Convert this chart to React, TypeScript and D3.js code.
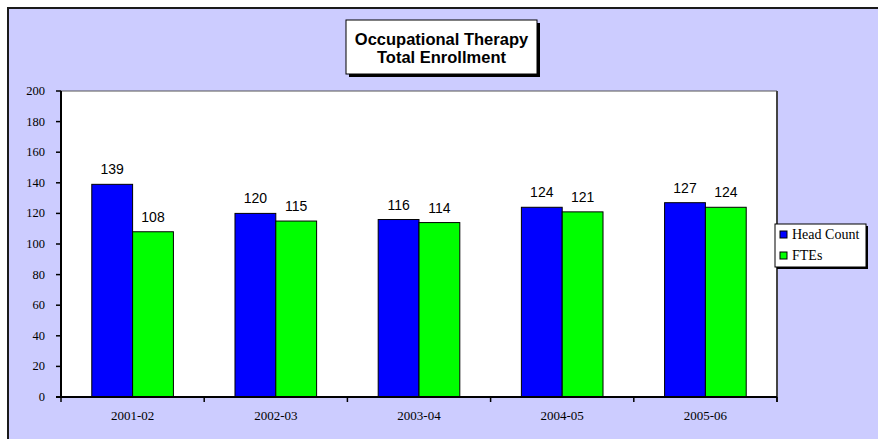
import React from "react";
import * as d3 from "d3";

const categories = ["2001-02", "2002-03", "2003-04", "2004-05", "2005-06"];
const seriesNames = ["Head Count", "FTEs"];
const headCount = [139, 120, 116, 124, 127];
const ftes = [108, 115, 114, 121, 124];
const yTicks = [0, 20, 40, 60, 80, 100, 120, 140, 160, 180, 200];
const titleLines = ["Occupational Therapy", "Total Enrollment"];
const colors = ["#0000ff", "#00ff00"];

export default function App() {
  const W = 878, H = 439;
  const left = 61, right = 777, top = 91, bottom = 397;
  const x = d3.scaleBand<string>().domain(categories).range([left, right]).paddingInner(0).paddingOuter(0);
  const y = d3.scaleLinear().domain([0, 200]).range([bottom, top]);
  const groupW = x.bandwidth() * 0.57;
  const sub = d3.scaleBand<number>().domain([0, 1]).range([0, groupW]);
  const series = [headCount, ftes];
  const bounds = categories.map((c) => x(c) as number).concat([right]);

  return (
    <svg width={W} height={H} style={{ position: "absolute", left: 0, top: 0 }} xmlns="http://www.w3.org/2000/svg">
      <rect x={0} y={0} width={W} height={H} fill="#ffffff" />
      <rect x={8} y={8} width={W} height={H} fill="#ccccff" stroke="#1a1a1a" strokeWidth={2} />
      {/* plot area */}
      <rect x={left} y={top} width={right - left} height={bottom - top} fill="#ffffff" />
      <line x1={left} x2={right} y1={top} y2={top} stroke="#555" strokeWidth={1} />
      <line x1={right} x2={right} y1={top} y2={bottom + 5} stroke="#444" strokeWidth={2} />
      {/* bars */}
      {categories.map((c, i) => {
        const gx = (x(c) as number) + (x.bandwidth() - groupW) / 2;
        return series.map((s, k) => (
          <rect
            key={c + k}
            x={gx + (sub(k) as number)}
            y={y(s[i])}
            width={sub.bandwidth()}
            height={bottom - y(s[i])}
            fill={colors[k]}
            stroke="#000"
            strokeWidth={1}
          />
        ));
      })}
      {/* value labels */}
      {categories.map((c, i) => {
        const gx = (x(c) as number) + (x.bandwidth() - groupW) / 2;
        return series.map((s, k) => (
          <text
            key={"l" + c + k}
            x={gx + (sub(k) as number) + sub.bandwidth() / 2}
            y={y(s[i]) - 10}
            textAnchor="middle"
            fontFamily="Liberation Sans, Arial, sans-serif"
            fontSize={14}
            fill="#000"
          >
            {s[i]}
          </text>
        ));
      })}
      {/* y axis */}
      <line x1={left} x2={left} y1={top} y2={bottom} stroke="#000" strokeWidth={2} />
      {yTicks.map((t) => (
        <g key={"y" + t}>
          <line x1={left - 5} x2={left} y1={y(t)} y2={y(t)} stroke="#000" strokeWidth={1.5} />
          <text
            x={45}
            y={y(t) + 4}
            textAnchor="end"
            fontFamily="Liberation Serif, Times New Roman, serif"
            fontSize={12.5}
            fill="#000"
          >
            {t}
          </text>
        </g>
      ))}
      {/* x axis */}
      <line x1={left - 5} x2={right} y1={bottom} y2={bottom} stroke="#000" strokeWidth={2} />
      {bounds.map((b, i) => (
        <line key={"xt" + i} x1={b} x2={b} y1={bottom} y2={bottom + 5} stroke="#000" strokeWidth={1.5} />
      ))}
      {categories.map((c) => (
        <text
          key={"xl" + c}
          x={(x(c) as number) + x.bandwidth() / 2}
          y={420}
          textAnchor="middle"
          fontFamily="Liberation Serif, Times New Roman, serif"
          fontSize={13}
          fill="#000"
        >
          {c}
        </text>
      ))}
      {/* title */}
      <rect x={349} y={23} width={191} height={54} fill="#000" />
      <rect x={346} y={20} width={191} height={54} fill="#fff" stroke="#000" strokeWidth={1} />
      {titleLines.map((t, i) => (
        <text
          key={"t" + i}
          x={441.5}
          y={45 + i * 17.5}
          textAnchor="middle"
          fontFamily="Liberation Sans, Arial, sans-serif"
          fontWeight="bold"
          fontSize={16.5}
          fill="#000"
        >
          {t}
        </text>
      ))}
      {/* legend */}
      <rect x={777} y={226} width={91} height={43} fill="#000" />
      <rect x={775} y={224} width={91} height={43} fill="#fff" stroke="#000" strokeWidth={1} />
      {seriesNames.map((n, k) => (
        <g key={"lg" + n}>
          <rect x={780} y={231 + k * 21} width={7} height={7} fill={colors[k]} stroke="#000" strokeWidth={1} />
          <text
            x={792}
            y={239 + k * 21}
            fontFamily="Liberation Serif, Times New Roman, serif"
            fontSize={14}
            fill="#000"
          >
            {n}
          </text>
        </g>
      ))}
    </svg>
  );
}
